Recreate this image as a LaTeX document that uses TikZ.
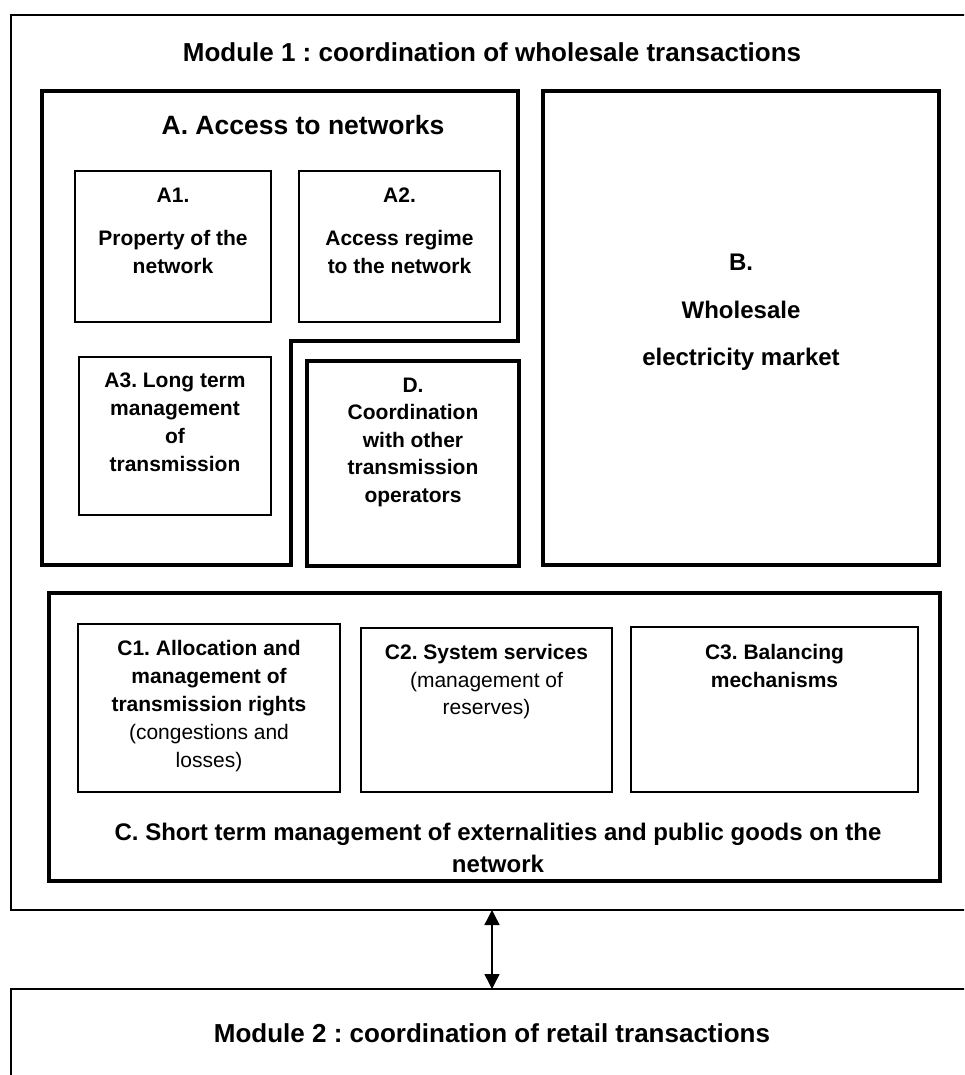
\documentclass[tikz,border=0pt]{standalone}
\usepackage{fontspec}
\setmainfont{Liberation Sans}
\usetikzlibrary{
	arrows.meta,
	positioning
}
\frenchspacing

\begin{document}
\begin{tikzpicture}[
			x=1pt, y=-1pt,
			font=\bfseries,
			modulo/.style={draw, line width=1.8pt, anchor=north west, inner sep=0pt, outer sep=0pt},
			grossa/.style={draw, line width=4pt, inner sep=0pt, outer sep=0pt},
			caixa/.style={draw, line width=1.8pt, inner sep=0pt, outer sep=0pt},
			txt/.style={align=center, inner sep=0pt, font=\fontsize{21}{28}\selectfont\bfseries},
			tit/.style={inner sep=0pt, font=\fontsize{26}{30}\selectfont\bfseries},
			fl/.style={{Triangle[width=15pt,length=15pt]}-{Triangle[width=15pt,length=15pt]}, line width=1.5pt}
		]
		\useasboundingbox (0,0) rectangle (964,1075);
		\clip (0,0) rectangle (964,1075);

		% modules
		\node[modulo, minimum width=1000, minimum height=895] (mod1) at (11,15) {};
		\node[modulo, minimum width=1000, minimum height=200] (mod2) at (11,989) {};
		\node[tit] (t1) at (492,52) {Module 1 : coordination of wholesale transactions};
		\node[tit] (t2) at (492,1033) {Module 2 : coordination of retail transactions};

		% A
		\draw[line width=4pt] (42,91) -- (518,91) -- (518,341) -- (291,341) -- (291,565) -- (42,565) -- cycle;
		\node[inner sep=0pt, font=\fontsize{26.5}{30}\selectfont\bfseries] (atit) at (303,125) {A. Access to networks};
		\node[caixa, minimum width=196, minimum height=151] (a1) at (173,246.5) {};
		\node[caixa, minimum width=201, minimum height=151] (a2) at (399.5,246.5) {};
		\node[caixa, minimum width=192, minimum height=158] (a3) at (175,436) {};
		\node[txt, below=16.5pt of a1.north] {A1.\\[15pt]Property of the\\network};
		\node[txt, below=16.5pt of a2.north] {A2.\\[15pt]Access regime\\to the network};
		\node[txt, below=15.5pt of a3.north] {A3. Long term\\management\\of\\transmission};

		% D
		\node[grossa, minimum width=212, minimum height=205] (d) at (413,463.5) {};
		\node[txt, below=16.5pt of d.north, font=\fontsize{21}{27.5}\selectfont\bfseries] {D.\\Coordination\\with other\\transmission\\operators};

		% B
		\node[grossa, minimum width=396, minimum height=474] (b) at (741,328) {};
		\node[txt, below=163pt of b.north, font=\fontsize{24}{47.5}\selectfont\bfseries] {B.\\Wholesale\\electricity market};

		% C
		\node[grossa, minimum width=891, minimum height=288] (c) at (494.5,737) {};
		\node[caixa, minimum width=262, minimum height=168] (c1) at (209,708) {};
		\node[caixa, minimum width=251, minimum height=164] (c2) at (486.5,710) {};
		\node[caixa, minimum width=287, minimum height=165] (c3) at (774.5,709.5) {};
		\node[txt, below=16.5pt of c1.north] {C1. Allocation and\\management of\\transmission rights\\\mdseries (congestions and\\\mdseries losses)};
		\node[txt, below=16.5pt of c2.north, font=\fontsize{21}{27.5}\selectfont\bfseries] {C2. System services\\\mdseries (management of\\\mdseries reserves)};
		\node[txt, below=17.5pt of c3.north, font=\fontsize{21}{27.5}\selectfont\bfseries] {C3. Balancing\\mechanisms};
		\node[txt, font=\fontsize{24}{32}\selectfont\bfseries] (clab) at (498,848) {C. Short term management of externalities and public goods on the\\network};

		\draw[fl] (t1 |- mod1.south) -- (t2 |- mod2.north);
	\end{tikzpicture}
\end{document}
